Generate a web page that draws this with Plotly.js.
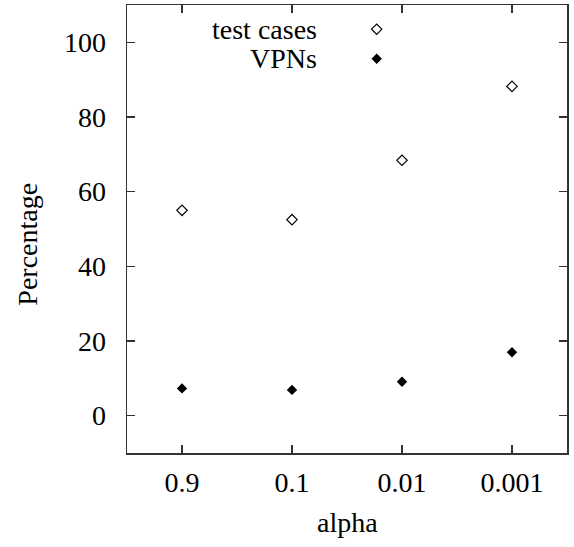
<!DOCTYPE html>
<html>
<head>
<meta charset="utf-8">
<script src="https://cdn.plot.ly/plotly-3.0.1.min.js"></script>
<style>html,body{margin:0;padding:0;background:#fff;}#chart{width:574px;height:547px;}</style>
</head>
<body>
<div id="chart"></div>
<script>
const alphaLabels = ["0.9", "0.1", "0.01", "0.001"];
const testCases = [55.0, 52.5, 68.4, 88.2];
const vpns = [7.3, 6.9, 9.1, 17.0];
const seriesNames = ["test cases", "VPNs"];
const yTicks = [0, 20, 40, 60, 80, 100];

const FONT = "Liberation Serif";
const FS = 28;

const traces = [
  {x: alphaLabels, y: testCases, type: "scatter", mode: "markers", name: seriesNames[0],
   marker: {symbol: "diamond-open", size: 8, color: "#000", line: {width: 1.2, color: "#000"}}, showlegend: false},
  {x: alphaLabels, y: vpns, type: "scatter", mode: "markers", name: seriesNames[1],
   marker: {symbol: "diamond", size: 8, color: "#000"}, showlegend: false},
  // legend keys
  {x: [0.5675], y: [0.946], xaxis: "x2", yaxis: "y2", type: "scatter", mode: "markers",
   marker: {symbol: "diamond-open", size: 8, color: "#000", line: {width: 1.2, color: "#000"}}, showlegend: false, hoverinfo: "skip"},
  {x: [0.5675], y: [0.880], xaxis: "x2", yaxis: "y2", type: "scatter", mode: "markers",
   marker: {symbol: "diamond", size: 8, color: "#000"}, showlegend: false, hoverinfo: "skip"}
];

const layout = {
  width: 574, height: 547,
  margin: {l: 127, r: 7, t: 5, b: 94},
  paper_bgcolor: "#fff", plot_bgcolor: "#fff",
  font: {family: FONT, size: FS, color: "#000"},
  showlegend: false,
  xaxis: {
    type: "category", categoryarray: alphaLabels, range: [-0.5, 3.5],
    showline: true, mirror: "allticks", linecolor: "#333", linewidth: 1.5,
    ticks: "inside", ticklen: 8, tickcolor: "#333", tickwidth: 1.2,
    showgrid: false, zeroline: false,
    tickfont: {family: FONT, size: FS, color: "#000"}, ticklabelstandoff: 4
  },
  yaxis: {
    range: [-10, 110], tickvals: yTicks,
    showline: true, mirror: "allticks", linecolor: "#333", linewidth: 1.5,
    ticks: "inside", ticklen: 8, tickcolor: "#333", tickwidth: 1.2,
    showgrid: false, zeroline: false,
    tickfont: {family: FONT, size: FS, color: "#000"}, ticklabelstandoff: 14
  },
  xaxis2: {overlaying: "x", range: [0, 1], visible: false, anchor: "y2"},
  yaxis2: {overlaying: "y", range: [0, 1], visible: false, anchor: "x2"},
  annotations: [
    {xref: "paper", yref: "paper", x: 0.436, y: 0.946, xanchor: "right", yanchor: "middle",
     text: seriesNames[0], showarrow: false, font: {family: FONT, size: FS}},
    {xref: "paper", yref: "paper", x: 0.436, y: 0.880, xanchor: "right", yanchor: "middle",
     text: seriesNames[1], showarrow: false, font: {family: FONT, size: FS}},
    {xref: "paper", yref: "paper", x: -0.225, y: 0.465, xanchor: "center", yanchor: "middle",
     textangle: -90, text: "Percentage", showarrow: false, font: {family: FONT, size: FS}},
    {xref: "paper", yref: "paper", x: 0.5, y: -0.155, xanchor: "center", yanchor: "middle",
     text: "alpha", showarrow: false, font: {family: FONT, size: FS}}
  ]
};

Plotly.newPlot("chart", traces, layout, {displayModeBar: false, staticPlot: true});
</script>
</body>
</html>
